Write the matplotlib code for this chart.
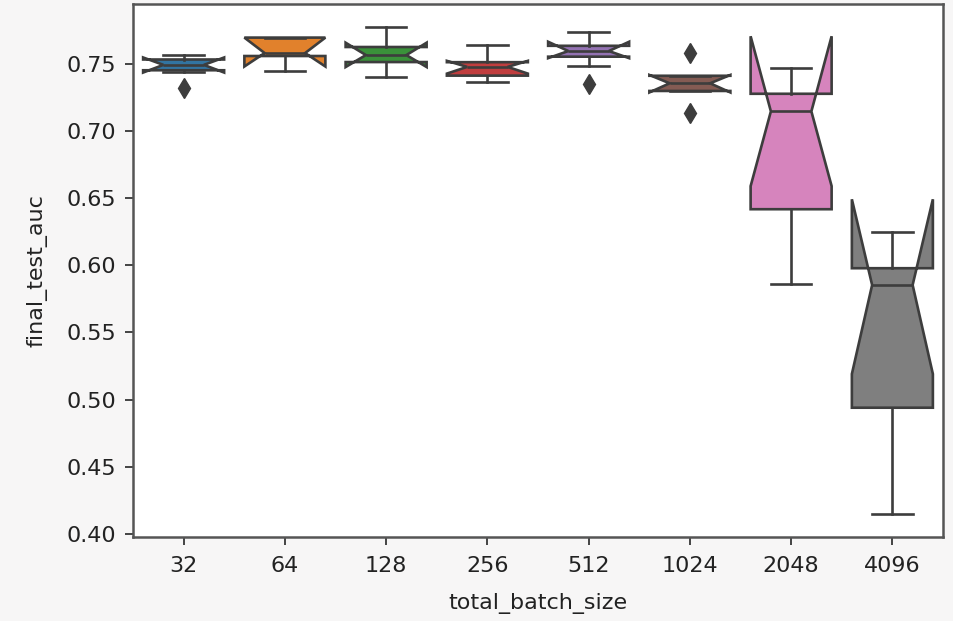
import matplotlib
matplotlib.use("Agg")
import matplotlib.pyplot as plt

categories = ['32', '64', '128', '256', '512', '1024', '2048', '4096']
medians = [0.7490, 0.7578, 0.7563, 0.7475, 0.7593, 0.7353, 0.7144, 0.5852]
q1 = [0.7450, 0.7556, 0.7511, 0.7410, 0.7551, 0.7296, 0.6416, 0.4939]
q3 = [0.7530, 0.7693, 0.7623, 0.7510, 0.7632, 0.7409, 0.7275, 0.5977]
ci_low = [0.7433, 0.7478, 0.7474, 0.7425, 0.7540, 0.7285, 0.6588, 0.5190]
ci_high = [0.7545, 0.7693, 0.7655, 0.7520, 0.7662, 0.7415, 0.7703, 0.6490]
whisker_low = [0.7440, 0.7447, 0.7397, 0.7365, 0.7480, 0.7296, 0.5862, 0.4150]
whisker_high = [0.7560, 0.7693, 0.7769, 0.7638, 0.7732, 0.7409, 0.7467, 0.6246]
outliers = [[0.7318], [], [], [], [0.7345], [0.7576, 0.7130], [], []]

box_colors = ['#3274a1', '#e1812c', '#3a923a', '#c03d3e',
              '#9372b2', '#845b53', '#d684bd', '#7f7f7f']
line_gray = '#3d3d3d'

stats = []
for i in range(len(categories)):
    stats.append(dict(med=medians[i], q1=q1[i], q3=q3[i],
                      cilo=ci_low[i], cihi=ci_high[i],
                      whislo=whisker_low[i], whishi=whisker_high[i],
                      fliers=outliers[i], label=categories[i]))

fig = plt.figure(figsize=(9.54, 6.21), dpi=100, facecolor='#f7f6f6')
ax = fig.add_axes([133/954, 1 - 537/621, 810/954, 533/621])
ax.set_facecolor('white')

lw = 1.9
bp = ax.bxp(stats, positions=list(range(len(categories))), widths=0.8,
            shownotches=True, patch_artist=True,
            boxprops=dict(edgecolor=line_gray, linewidth=lw),
            medianprops=dict(color=line_gray, linewidth=lw),
            whiskerprops=dict(color=line_gray, linewidth=lw),
            capprops=dict(color=line_gray, linewidth=lw),
            flierprops=dict(marker='d', markerfacecolor=line_gray,
                            markeredgecolor=line_gray, markersize=10,
                            linestyle='none'))
for patch, c in zip(bp['boxes'], box_colors):
    patch.set_facecolor(c)

ax.set_xlim(-0.5, len(categories) - 0.5)
ax.set_ylim(0.3977, 0.7943)
ax.set_yticks([0.40, 0.45, 0.50, 0.55, 0.60, 0.65, 0.70, 0.75])
ax.set_yticklabels(['0.40', '0.45', '0.50', '0.55', '0.60', '0.65', '0.70', '0.75'])
ax.set_xticks(list(range(len(categories))))
ax.set_xticklabels(categories)
ax.tick_params(labelsize=16, length=6, width=1.4, color='#444444', labelcolor='#222222')
ax.tick_params(axis='x', pad=8)
ax.tick_params(axis='y', pad=6)
for s in ax.spines.values():
    s.set_color('#555555')
    s.set_linewidth(1.8)
ax.set_xlabel('total_batch_size', fontsize=16, color='#222222', labelpad=12)
ax.set_ylabel('final_test_auc', fontsize=16, color='#222222', labelpad=14)

fig.savefig('out.png', dpi=100, facecolor=fig.get_facecolor())
